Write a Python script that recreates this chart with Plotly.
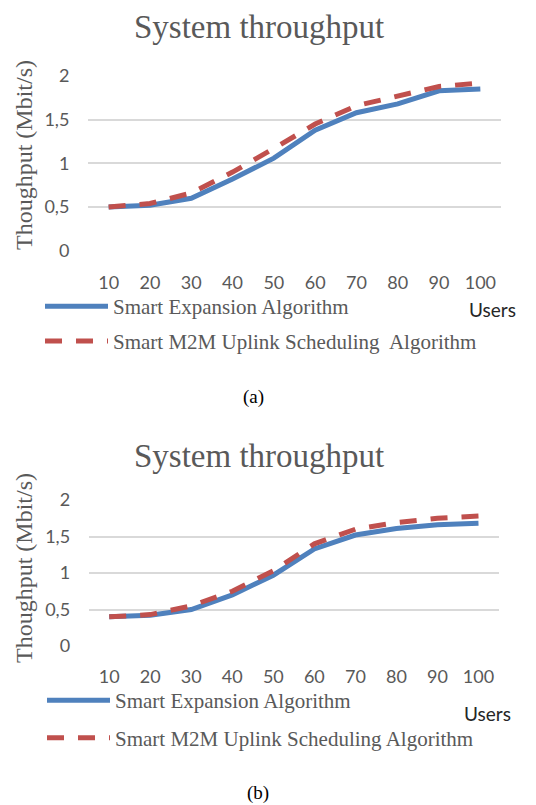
import plotly.graph_objects as go

# the page body has an 8px margin, so figure pixels sit 8px right/down of page pixels
PAGE_W, PAGE_H = 536, 805
OFF = 8
W, H = PAGE_W, PAGE_H

users = [10, 20, 30, 40, 50, 60, 70, 80, 90, 100]
series_names = ["Smart Expansion Algorithm", "Smart M2M Uplink Scheduling  Algorithm"]
series_names_b = ["Smart Expansion Algorithm", "Smart M2M Uplink Scheduling Algorithm"]

# chart (a)
expansion_a = [0.50, 0.52, 0.60, 0.82, 1.06, 1.38, 1.58, 1.68, 1.83, 1.85]
m2m_a = [0.50, 0.54, 0.66, 0.90, 1.17, 1.45, 1.66, 1.77, 1.88, 1.92]
# chart (b)
expansion_b = [0.40, 0.42, 0.50, 0.70, 0.97, 1.33, 1.52, 1.61, 1.66, 1.68]
m2m_b = [0.40, 0.43, 0.55, 0.75, 1.03, 1.40, 1.60, 1.69, 1.75, 1.78]

y_tickvals = [0, 0.5, 1, 1.5, 2]
y_ticktext = ["0", "0,5", "1", "1,5", "2"]

title_text = "System throughput"
y_title = "Thoughput (Mbit/s)"
x_title = "Users"

BLUE = "#4F81BD"
RED = "#C0504D"
GREY = "#595959"
GRID = "#D9D9D9"
SANS = "Lato, Open Sans, sans-serif"
SERIF = "Liberation Serif, Times New Roman, serif"


def px_x(x):
    return (x - OFF) / W


def px_y(y):
    return 1 - (y - OFF) / H


fig = go.Figure()

fig.add_trace(go.Scatter(x=users, y=expansion_a, name=series_names[0], mode="lines",
                         line=dict(color=BLUE, width=5), xaxis="x", yaxis="y",
                         legend="legend", legendgroup="a1"))
fig.add_trace(go.Scatter(x=users, y=m2m_a, name=series_names[1], mode="lines",
                         line=dict(color=RED, width=5, dash="17px,14px"), xaxis="x", yaxis="y",
                         legend="legend", legendgroup="a2"))
fig.add_trace(go.Scatter(x=users, y=expansion_b, name=series_names_b[0], mode="lines",
                         line=dict(color=BLUE, width=5), xaxis="x2", yaxis="y2",
                         legend="legend2", legendgroup="b1"))
fig.add_trace(go.Scatter(x=users, y=m2m_b, name=series_names_b[1], mode="lines",
                         line=dict(color=RED, width=5, dash="17px,14px"), xaxis="x2", yaxis="y2",
                         legend="legend2", legendgroup="b2"))

xcommon = dict(type="category", range=[-0.5, 9.5], showgrid=False, zeroline=False, showline=False,
               ticks="outside", tickcolor="rgba(0,0,0,0)", automargin=False,
               tickfont=dict(family=SANS, size=18, color=GREY), fixedrange=True)
ycommon = dict(range=[0, 2], tickvals=y_tickvals, ticktext=y_ticktext, showgrid=True,
               gridcolor=GRID, gridwidth=1.5, zeroline=False, showline=False,
               ticks="outside", ticklen=14, tickcolor="rgba(0,0,0,0)", automargin=False,
               tickfont=dict(family=SANS, size=18, color=GREY), fixedrange=True)

legend_common = dict(font=dict(family=SERIF, size=21, color=GREY), bgcolor="rgba(0,0,0,0)",
                     orientation="v", xanchor="left", yanchor="top", itemwidth=63,
                     traceorder="grouped")


def ann(text, x, y, font, angle=0, yanchor="middle", pad=1):
    return dict(text=text, x=px_x(x), y=px_y(y), xref="paper", yref="paper",
                xanchor="center", yanchor=yanchor, showarrow=False, borderpad=pad,
                textangle=angle, font=font)


fig.update_layout(
    width=W, height=H, margin=dict(l=0, r=0, t=0, b=0, autoexpand=False),
    paper_bgcolor="white", plot_bgcolor="white", showlegend=True,
    xaxis=dict(domain=[px_x(88), px_x(501)], anchor="y", ticklen=16, **xcommon),
    yaxis=dict(domain=[px_y(250.7), px_y(76)], anchor="x", **ycommon),
    xaxis2=dict(domain=[px_x(88.7), px_x(499)], anchor="y2", ticklen=14, **xcommon),
    yaxis2=dict(domain=[px_y(646), px_y(500)], anchor="x2", **ycommon),
    legend=dict(x=px_x(40), y=px_y(286), tracegroupgap=4.6, **legend_common),
    legend2=dict(x=px_x(42), y=px_y(680), tracegroupgap=7.3, **legend_common),
    annotations=[
        ann(title_text, 259, 8, dict(family=SERIF, size=33, color=GREY), yanchor="top", pad=0),
        ann(title_text, 259, 456, dict(family=SERIF, size=33, color=GREY)),
        ann(y_title, 24, 155, dict(family=SERIF, size=24, color=GREY), -90),
        ann(y_title, 24, 568, dict(family=SERIF, size=24, color=GREY), -90),
        ann(x_title, 492, 309, dict(family=SANS, size=19, color="#262626")),
        ann(x_title, 487, 713, dict(family=SANS, size=19, color="#262626")),
        ann("(a)", 253, 397, dict(family=SERIF, size=19, color="black")),
        ann("(b)", 258, 793, dict(family=SERIF, size=19, color="black")),
    ],
)

fig.write_html("out.html")
